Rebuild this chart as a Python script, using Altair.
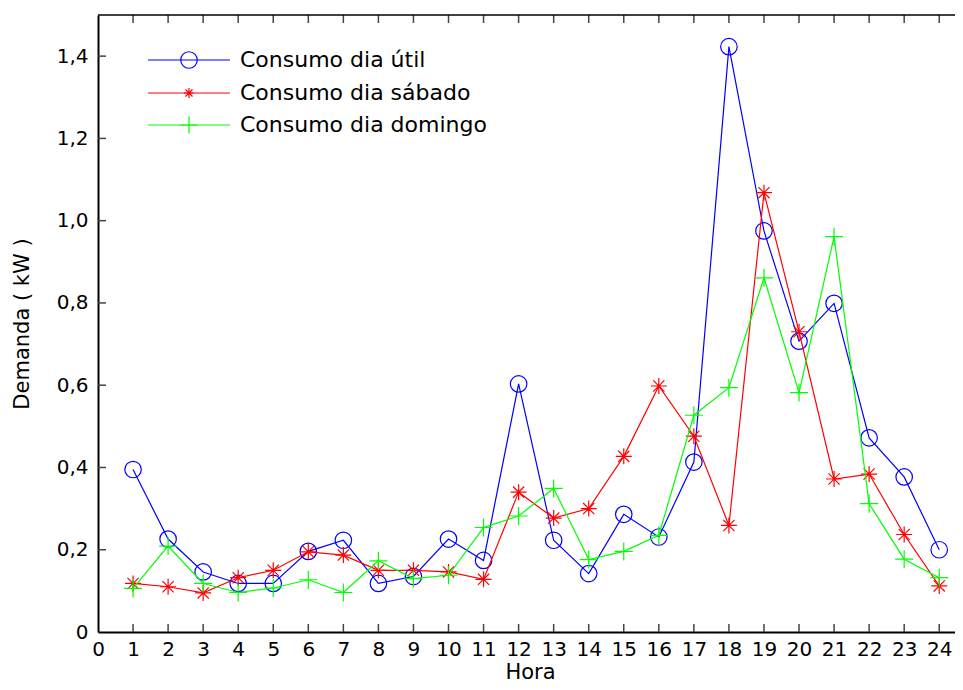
import altair as alt
import pandas as pd

# ---- data ----
horas = list(range(1, 25))
util = [0.395, 0.226, 0.146, 0.118, 0.118, 0.196, 0.223, 0.118, 0.135, 0.226, 0.174, 0.603,
        0.223, 0.142, 0.286, 0.231, 0.413, 1.423, 0.975, 0.707, 0.799, 0.472, 0.377, 0.200]
sabado = [0.118, 0.110, 0.095, 0.132, 0.150, 0.195, 0.187, 0.150, 0.150, 0.146, 0.128, 0.340,
          0.277, 0.300, 0.427, 0.598, 0.476, 0.259, 1.068, 0.730, 0.372, 0.384, 0.237, 0.112]
domingo = [0.106, 0.209, 0.118, 0.096, 0.107, 0.127, 0.096, 0.173, 0.130, 0.138, 0.254, 0.282,
           0.349, 0.176, 0.196, 0.235, 0.527, 0.594, 0.861, 0.582, 0.961, 0.312, 0.177, 0.132]

series_names = ["Consumo dia útil", "Consumo dia sábado", "Consumo dia domingo"]
series_values = [util, sabado, domingo]
series_colors = ["#0000FF", "#FF0000", "#00FF00"]
x_ticks = list(range(0, 25))
y_ticks = [0, 0.2, 0.4, 0.6, 0.8, 1.0, 1.2, 1.4]

# ---- layout ----
W, H = 857, 617
FONT = "DejaVu Sans"
ASTERISK = "M0,-1L0,1M-1,0L1,0M-0.7,-0.7L0.7,0.7M-0.7,0.7L0.7,-0.7"
PLUS = "M-1,0L1,0M0,-1L0,1"
shapes = ["circle", ASTERISK, PLUS]
sizes = [272, 256, 324]
legend_sizes = [272, 100, 289]

xscale = alt.Scale(domain=[0, 24.45], nice=False, zero=False)
yscale = alt.Scale(domain=[0, 1.5], nice=False)

xaxis = alt.Axis(values=x_ticks, ticks=False, grid=False, domainColor="black", domainWidth=2,
                 labelFont=FONT, labelFontSize=20, labelColor="black", labelPadding=7,
                 labelFlush=False, labelOverlap=False, format="d",
                 title="Hora", titleFont=FONT, titleFontSize=21,
                 titleFontWeight="normal", titleColor="black", titleX=432, titleY=40,
                 titleBaseline="middle", titleAlign="center")
yaxis = alt.Axis(values=y_ticks, ticks=False, grid=False, domainColor="black", domainWidth=2,
                 labelFont=FONT, labelFontSize=20, labelColor="black", labelPadding=10,
                 labelFlush=False, labelOverlap=False,
                 labelExpr="datum.value == 0 ? '0' : replace(format(datum.value, '.1f'), '.', ',')",
                 title="Demanda ( kW )", titleFont=FONT, titleFontSize=21,
                 titleFontWeight="normal", titleColor="black", titleX=-76, titleY=H / 2,
                 titleAngle=270, titleBaseline="middle", titleAlign="center")


def X(field):
    return alt.X(field, scale=xscale, axis=xaxis)


def Y(field):
    return alt.Y(field, scale=yscale, axis=yaxis)


layers = []

# inward ticks
xt_df = pd.DataFrame({"x": list(range(1, 25))})
yt_df = pd.DataFrame({"y": y_ticks[1:]})
tick_color = "#444444"
layers.append(alt.Chart(xt_df).mark_rule(color=tick_color, strokeWidth=1.5).encode(
    x=X("x:Q"), y=alt.value(H), y2=alt.value(H - 8)))
layers.append(alt.Chart(xt_df).mark_rule(color=tick_color, strokeWidth=1.5).encode(
    x=X("x:Q"), y=alt.value(0), y2=alt.value(8)))
layers.append(alt.Chart(yt_df).mark_rule(color=tick_color, strokeWidth=1.5).encode(
    y=Y("y:Q"), x=alt.value(0), x2=alt.value(8)))
# top frame
frame_df = pd.DataFrame({"k": [0]})
layers.append(alt.Chart(frame_df).mark_rule(color="black", strokeWidth=1.5).encode(
    x=alt.value(0), x2=alt.value(W), y=alt.value(0)))

# series
for name, vals, col, shp, sz in zip(series_names, series_values, series_colors, shapes, sizes):
    df = pd.DataFrame({"Hora": horas, "Demanda": vals, "serie": name})
    base = alt.Chart(df).encode(x=X("Hora:Q"), y=Y("Demanda:Q"))
    layers.append(base.mark_line(color=col, strokeWidth=1.2))
    layers.append(base.mark_point(shape=shp, size=sz, color=col, filled=False, strokeWidth=1.2, opacity=1))

# legend (manual)
rows_y = [45, 78, 110]
for name, col, shp, sz, ry in zip(series_names, series_colors, shapes, legend_sizes, rows_y):
    ldf = pd.DataFrame({"serie": [name]})
    lc = alt.Chart(ldf)
    layers.append(lc.mark_rule(color=col, strokeWidth=1.2).encode(
        x=alt.value(50), x2=alt.value(132), y=alt.value(ry)))
    layers.append(lc.mark_point(shape=shp, size=sz, color=col, filled=False, strokeWidth=1.2, opacity=1).encode(
        x=alt.value(91), y=alt.value(ry)))
    layers.append(lc.mark_text(align="left", baseline="middle", font=FONT, fontSize=22, color="black").encode(
        x=alt.value(142), y=alt.value(ry), text=alt.Text("serie:N")))

chart = alt.layer(*layers).properties(
    width=W, height=H,
    autosize=alt.AutoSizeParams(type="none"),
    padding={"left": 90, "top": 7, "right": 0, "bottom": 50},
    background="white",
).configure_view(stroke=None).configure_axis(labelOverlap=False)

chart.save("out.html", embed_options={"renderer": "svg", "actions": False})
